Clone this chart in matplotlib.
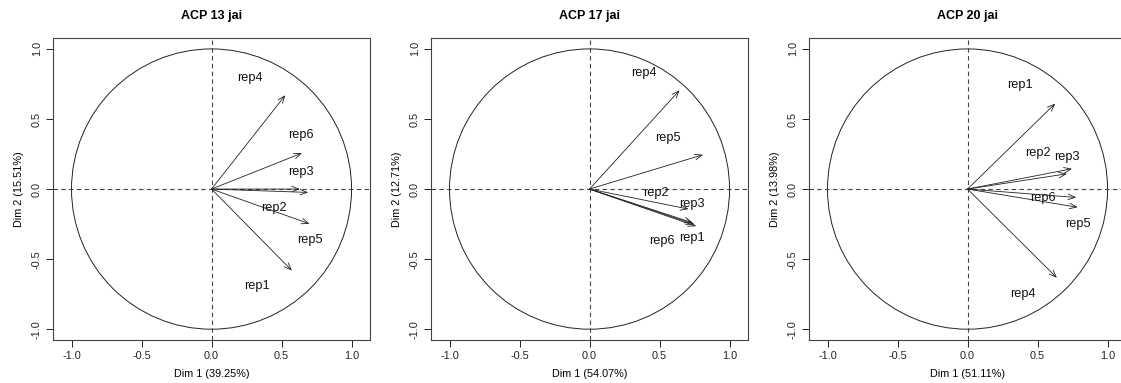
import matplotlib
matplotlib.use("Agg")
import matplotlib.pyplot as plt
from matplotlib.patches import Circle

plt.rcParams['font.family'] = ['Liberation Sans', 'DejaVu Sans']

# Variable names
reps = ['rep1', 'rep2', 'rep3', 'rep4', 'rep5', 'rep6']

# Panel titles and axis inertia
titles = ['ACP 13 jai', 'ACP 17 jai', 'ACP 20 jai']
dim1_pct = ['39.25%', '54.07%', '51.11%']
dim2_pct = ['15.51%', '12.71%', '13.98%']

# Arrow tips (Dim 1, Dim 2) per panel, in reps order
x_13 = [0.574, 0.630, 0.690, 0.527, 0.700, 0.646]
y_13 = [-0.582, 0.000, -0.024, 0.670, -0.248, 0.257]
x_17 = [0.762, 0.735, 0.707, 0.643, 0.810, 0.748]
y_17 = [-0.265, -0.240, -0.143, 0.705, 0.245, -0.252]
x_20 = [0.626, 0.710, 0.746, 0.638, 0.786, 0.776]
y_20 = [0.610, 0.109, 0.145, -0.633, -0.130, -0.060]

# Label positions (Dim 1, Dim 2) per panel
lx_13 = [0.324, 0.448, 0.636, 0.277, 0.701, 0.639]
ly_13 = [-0.694, -0.133, 0.122, 0.796, -0.367, 0.389]
lx_17 = [0.731, 0.476, 0.731, 0.390, 0.560, 0.517]
ly_17 = [-0.348, -0.026, -0.110, 0.829, 0.364, -0.371]
lx_20 = [0.376, 0.502, 0.710, 0.395, 0.786, 0.538]
ly_20 = [0.740, 0.257, 0.229, -0.752, -0.248, -0.062]

panels = [
    (x_13, y_13, lx_13, ly_13),
    (x_17, y_17, lx_17, ly_17),
    (x_20, y_20, lx_20, ly_20),
]

ticks = [-1.0, -0.5, 0.0, 0.5, 1.0]
tick_labels = ['-1.0', '-0.5', '0.0', '0.5', '1.0']

fig = plt.figure(figsize=(11.21, 3.83), dpi=100)
lefts = [0.0473, 0.3845, 0.7217]

for i, (xs, ys, lxs, lys) in enumerate(panels):
    ax = fig.add_axes([lefts[i], 0.1123, 0.2828, 0.7885])
    ax.set_xlim(-1.132, 1.132)
    ax.set_ylim(-1.077, 1.078)

    # Unit circle and reference lines
    ax.add_patch(Circle((0, 0), 1.0, fill=False, lw=0.7, color='#222222'))
    ax.axhline(0, ls=(0, (4, 3)), lw=0.8, color='#444444')
    ax.axvline(0, ls=(0, (4, 3)), lw=0.8, color='#444444')

    # Variable arrows
    for x, y in zip(xs, ys):
        ax.annotate('', xy=(x, y), xytext=(0, 0),
                    arrowprops=dict(arrowstyle='->,head_length=0.5,head_width=0.2',
                                    lw=0.6, color='#222222',
                                    shrinkA=0, shrinkB=0))
    for name, lx, ly in zip(reps, lxs, lys):
        ax.text(lx, ly, name, ha='center', va='center', fontsize=9.2,
                color='#111111')

    ax.set_xticks(ticks)
    ax.set_xticklabels(tick_labels)
    ax.set_yticks(ticks)
    ax.set_yticklabels(tick_labels, rotation=90, va='center')
    ax.tick_params(direction='out', length=5, width=0.7, labelsize=7.8,
                   colors='#222222', pad=3)
    for sp in ax.spines.values():
        sp.set_linewidth(0.8)
        sp.set_color('#444444')

    ax.set_title(titles[i], fontsize=9, fontweight='bold', pad=14)
    ax.set_xlabel('Dim 1 (' + dim1_pct[i] + ')', fontsize=7.8, labelpad=6)
    ax.set_ylabel('Dim 2 (' + dim2_pct[i] + ')', fontsize=7.8, labelpad=6)

fig.savefig('out.png', dpi=100)
